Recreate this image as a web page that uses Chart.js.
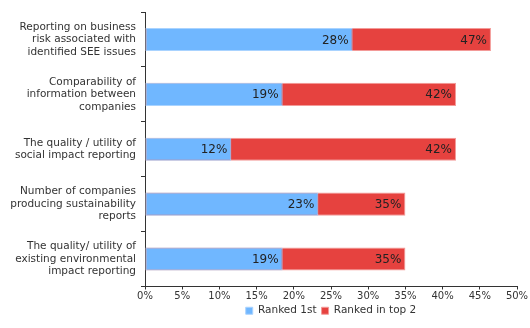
<!DOCTYPE html>
<html>
<head>
<meta charset="utf-8">
<script src="https://cdn.jsdelivr.net/npm/chart.js@4/dist/chart.umd.min.js"></script>
<style>
html,body{margin:0;padding:0;background:#fff;}
#wrap{width:530px;height:328px;position:relative;}
</style>
</head>
<body>
<div id="wrap"><canvas id="c"></canvas></div>
<script>
const categories = [
  ["Reporting on business", "risk associated with", "identified SEE issues"],
  ["Comparability of", "information between", "companies"],
  ["The quality / utility of", "social impact reporting"],
  ["Number of companies", "producing sustainability", "reports"],
  ["The quality/ utility of", "existing environmental", "impact reporting"]
];
const rankedFirst = [27.9, 18.5, 11.6, 23.3, 18.5];
const rankedTop2 = [46.5, 41.8, 41.8, 35.0, 35.0];
const seriesNames = ["Ranked 1st", "Ranked in top 2"];
const xTickMin = 0, xTickMax = 50, xTickStep = 5;

const FONT = "'DejaVu Sans', Verdana, sans-serif";

const valueLabels = {
  id: 'valueLabels',
  afterDatasetsDraw(chart) {
    const ctx = chart.ctx;
    ctx.save();
    ctx.font = "12px " + FONT;
    ctx.fillStyle = "#222";
    ctx.textAlign = "right";
    ctx.textBaseline = "middle";
    chart.data.datasets.forEach((ds, i) => {
      const meta = chart.getDatasetMeta(i);
      meta.data.forEach((el, j) => {
        ctx.fillText(Math.round(ds.data[j]) + "%", el.x - 4, el.y + 1);
      });
    });
    ctx.restore();
  }
};

new Chart(document.getElementById('c'), {
  type: 'bar',
  data: {
    labels: categories,
    datasets: [
      {
        label: seriesNames[0],
        data: rankedFirst,
        backgroundColor: '#70b7ff',
        borderColor: '#a9d3ff',
        borderWidth: 1,
        borderSkipped: false,
        order: 0
      },
      {
        label: seriesNames[1],
        data: rankedTop2,
        backgroundColor: '#e6423f',
        borderColor: '#f39a98',
        borderWidth: 1,
        borderSkipped: false,
        order: 1
      }
    ]
  },
  options: {
    indexAxis: 'y',
    responsive: true,
    maintainAspectRatio: false,
    animation: false,
    layout: { padding: { top: 12, right: 13, bottom: 2, left: 0 } },
    datasets: { bar: { categoryPercentage: 1, barPercentage: 0.42 } },
    scales: {
      x: {
        stacked: false,
        min: xTickMin, max: xTickMax,
        border: { color: '#333', width: 1 },
        grid: { drawOnChartArea: false, drawTicks: true, tickLength: 3, color: '#333' },
        ticks: {
          stepSize: xTickStep,
          padding: 1,
          color: '#333',
          font: { family: FONT, size: 10 },
          callback: v => v + '%',
          maxRotation: 0
        },
        afterFit(scale) { scale.height -= 3; }
      },
      y: {
        stacked: true,
        border: { color: '#333', width: 1 },
        grid: { drawOnChartArea: false, drawTicks: true, tickLength: 4, color: '#333', offset: true },
        ticks: {
          padding: 5,
          color: '#333',
          font: { family: FONT, size: 10.5, lineHeight: 1.19 }
        },
        afterFit(scale) { scale.width = 145; scale.paddingTop = 0; scale.paddingBottom = 0; }
      }
    },
    plugins: {
      tooltip: { enabled: false },
      legend: {
        position: 'bottom',
        fullSize: false,
        labels: {
          boxWidth: 7, boxHeight: 7,
          padding: 5,
          color: '#333',
          font: { family: FONT, size: 10.5 }
        }
      }
    }
  },
  plugins: [valueLabels]
});
</script>
</body>
</html>
